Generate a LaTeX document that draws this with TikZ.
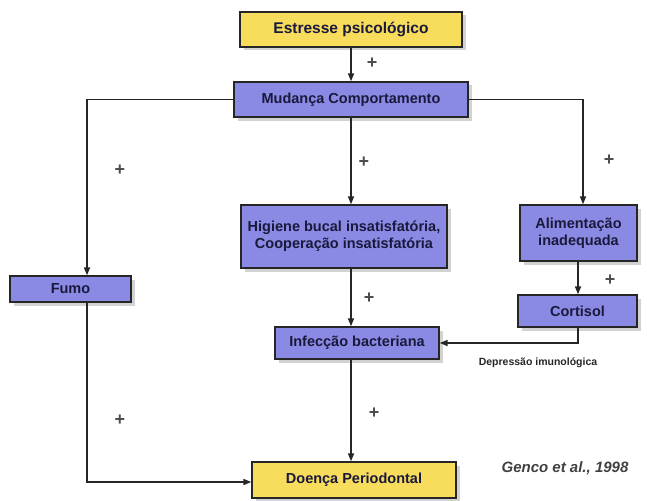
\documentclass[tikz,border=0pt]{standalone}
\usepackage{fontspec}
\setmainfont{Liberation Sans}
\usetikzlibrary{arrows.meta,shadows}
\definecolor{boxblue}{RGB}{138,138,228}
\definecolor{boxyellow}{RGB}{248,220,92}
\definecolor{txtdark}{RGB}{25,25,60}
\begin{document}
\begin{tikzpicture}[x=1pt,y=-1pt,
  box/.style={draw=black!85, line width=1.3pt, fill=boxblue, text=txtdark, font=\bfseries\fontsize{14.5}{17}\selectfont, align=center, inner sep=0pt,
    drop shadow={shadow xshift=3.5pt, shadow yshift=-3.5pt, fill=gray!35, opacity=1}},
  ybox/.style={box, fill=boxyellow},
  conn/.style={draw=black!85, line width=1.6pt, -{Triangle[length=8pt,width=6pt]}},
  plus/.style={font=\bfseries\fontsize{18}{18}\selectfont, text=black!70}]
\useasboundingbox (0,0) rectangle (647,500);
\node[ybox, minimum width=222pt, minimum height=35pt, font=\bfseries\fontsize{15.5}{17}\selectfont] (est) at (351,29.5) {Estresse psicológico};
\node[box, minimum width=234pt, minimum height=35pt] (mud) at (351,99.5) {Mudança Comportamento};
\node[box, minimum width=206pt, minimum height=63pt] (hig) at (344,236.5) {Higiene bucal insatisfatória,\\Cooperação insatisfatória};
\node[box, minimum width=117pt, minimum height=56pt] (ali) at (578.5,233) {Alimentação\\inadequada};
\node[box, minimum width=121pt, minimum height=26pt] (fum) at (70.5,289) {Fumo};
\node[box, minimum width=119pt, minimum height=32pt] (cor) at (577.5,311) {Cortisol};
\node[box, minimum width=164pt, minimum height=32pt] (inf) at (357,343) {Infecção bacteriana};
\node[ybox, minimum width=204pt, minimum height=36pt] (doe) at (354,480) {Doença Periodontal};
\coordinate (c1) at (87,99.5);
\coordinate (c2) at (583,99.5);
\coordinate (c3) at (578,343);
\coordinate (c4) at (87,482);
\draw[conn] (est.south -| 351,0) -- (mud.north -| 351,0);
\draw[conn] (mud.west) -- (c1) -- (fum.north -| c1);
\draw[conn] (mud.south -| 351,0) -- (hig.north -| 351,0);
\draw[conn] (mud.east) -- (c2) -- (ali.north -| c2);
\draw[conn] (ali.south -| 578,0) -- (cor.north -| 578,0);
\draw[conn] (cor.south -| c3) -- (c3) -- (inf.east |- c3);
\draw[conn] (hig.south -| 351,0) -- (inf.north -| 351,0);
\draw[conn] (inf.south -| 351,0) -- (doe.north -| 351,0);
\draw[conn] (fum.south -| c4) -- (c4) -- (doe.west |- c4);
\node[plus] (p1) at (372,63) {+};
\node[plus] (p2) at (120,170) {+};
\node[plus] (p3) at (364,162) {+};
\node[plus] (p4) at (609,160) {+};
\node[plus] (p5) at (610,280) {+};
\node[plus] (p6) at (369,298) {+};
\node[plus] (p7) at (374,413) {+};
\node[plus] (p8) at (120,420) {+};
\node[font=\bfseries\fontsize{10.5}{12}\selectfont, text=black!85] (dep) at (538,363) {Depressão imunológica};
\node[font=\bfseries\itshape\fontsize{15}{17}\selectfont, text=black!75] (gen) at (565,468) {Genco et al., 1998};
\end{tikzpicture}
\end{document}
